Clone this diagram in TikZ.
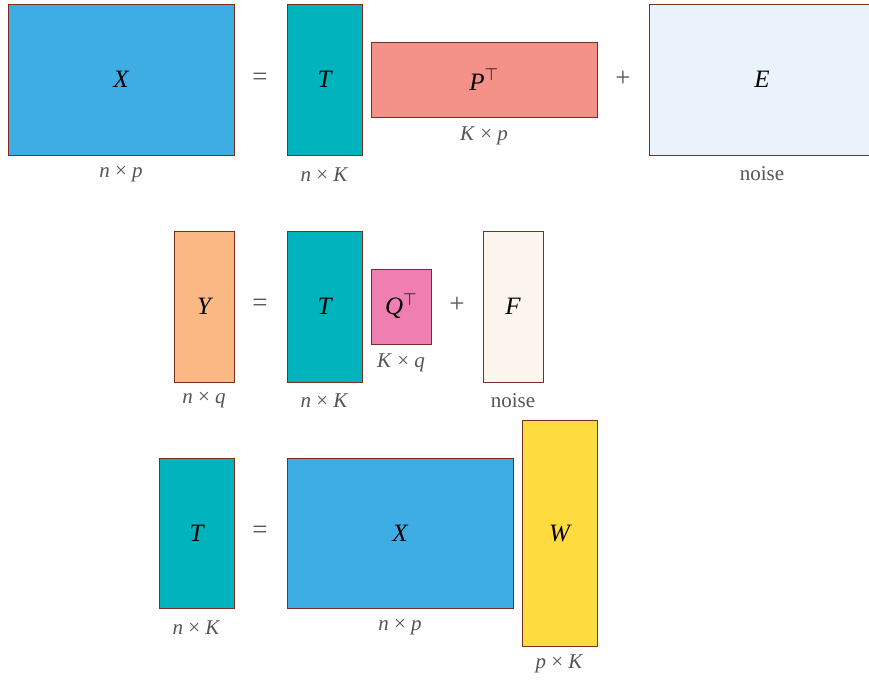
\documentclass[tikz,border=0pt]{standalone}
\usepackage{fontspec}
\setmainfont{Liberation Serif}
\definecolor{bordc}{HTML}{7A2E1E}
\definecolor{labc}{HTML}{555555}
\definecolor{cX}{HTML}{3DADE3}
\definecolor{cT}{HTML}{00B3BC}
\definecolor{cP}{HTML}{F49189}
\definecolor{cE}{HTML}{EAF3FB}
\definecolor{cY}{HTML}{F9B884}
\definecolor{cQ}{HTML}{F07FB1}
\definecolor{cF}{HTML}{FDF6EE}
\definecolor{cW}{HTML}{FEDC40}
\begin{document}
\begin{tikzpicture}[x=1pt,y=-1pt,
  mat/.style={draw=bordc, line width=0.8pt, inner sep=0pt, font=\fontsize{25}{27}\selectfont\itshape},
  lbl/.style={text=labc, inner sep=0pt, font=\fontsize{21}{24}\selectfont},
  op/.style={text=labc, inner sep=0pt, font=\fontsize{27}{29}\selectfont}]
\useasboundingbox (0,0) rectangle (869,680);
% row 1
\node[mat, fill=cX, minimum width=226pt, minimum height=151pt] (X1) at (121,79.5) {X};
\node[op] (eq1) at (260,79) {=};
\node[mat, fill=cT, minimum width=75pt, minimum height=151pt] (T1) at (324.5,79.5) {T};
\node[mat, fill=cP, minimum width=226pt, minimum height=75pt] (P) at (484,79.5) {P$^{\top}$};
\node[op] (pl1) at (623,79) {+};
\node[mat, fill=cE, minimum width=226pt, minimum height=151pt] (E) at (762,79.5) {E};
\node[lbl] (lX1) at ([yshift=-19pt]X1.south) {\textit{n} × \textit{p}};
\node[lbl] (lT1) at ([yshift=-19pt]T1.south) {\textit{n} × \textit{K}};
\node[lbl] (lP) at ([yshift=-18pt]P.south) {\textit{K} × \textit{p}};
\node[lbl] (lE) at ([yshift=-18pt]E.south) {noise};
% row 2
\node[mat, fill=cY, minimum width=60pt, minimum height=151pt] (Y) at (204,306.5) {Y};
\node[op] (eq2) at (260,305) {=};
\node[mat, fill=cT, minimum width=75pt, minimum height=151pt] (T2) at (324.5,306.5) {T};
\node[mat, fill=cQ, minimum width=60pt, minimum height=75pt] (Q) at (401,306.5) {Q$^{\top}$};
\node[op] (pl2) at (457,305) {+};
\node[mat, fill=cF, minimum width=60pt, minimum height=151pt] (F) at (513,306.5) {F};
\node[lbl] (lY) at ([yshift=-18pt]Y.south) {\textit{n} × \textit{q}};
\node[lbl] (lT2) at ([yshift=-18pt]T2.south) {\textit{n} × \textit{K}};
\node[lbl] (lQ) at ([yshift=-18pt]Q.south) {\textit{K} × \textit{q}};
\node[lbl] (lF) at ([yshift=-18pt]F.south) {noise};
% row 3
\node[mat, fill=cT, minimum width=75pt, minimum height=150pt] (T3) at (196.5,533) {T};
\node[op] (eq3) at (260,532) {=};
\node[mat, fill=cX, minimum width=226pt, minimum height=150pt] (X3) at (400,533) {X};
\node[mat, fill=cW, minimum width=75pt, minimum height=226pt] (W) at (559.5,533) {W};
\node[lbl] (lT3) at ([yshift=-19pt]T3.south) {\textit{n} × \textit{K}};
\node[lbl] (lX3) at ([yshift=-19pt]X3.south) {\textit{n} × \textit{p}};
\node[lbl] (lW) at ([yshift=-17pt]W.south) {\textit{p} × \textit{K}};
\end{tikzpicture}
\end{document}
